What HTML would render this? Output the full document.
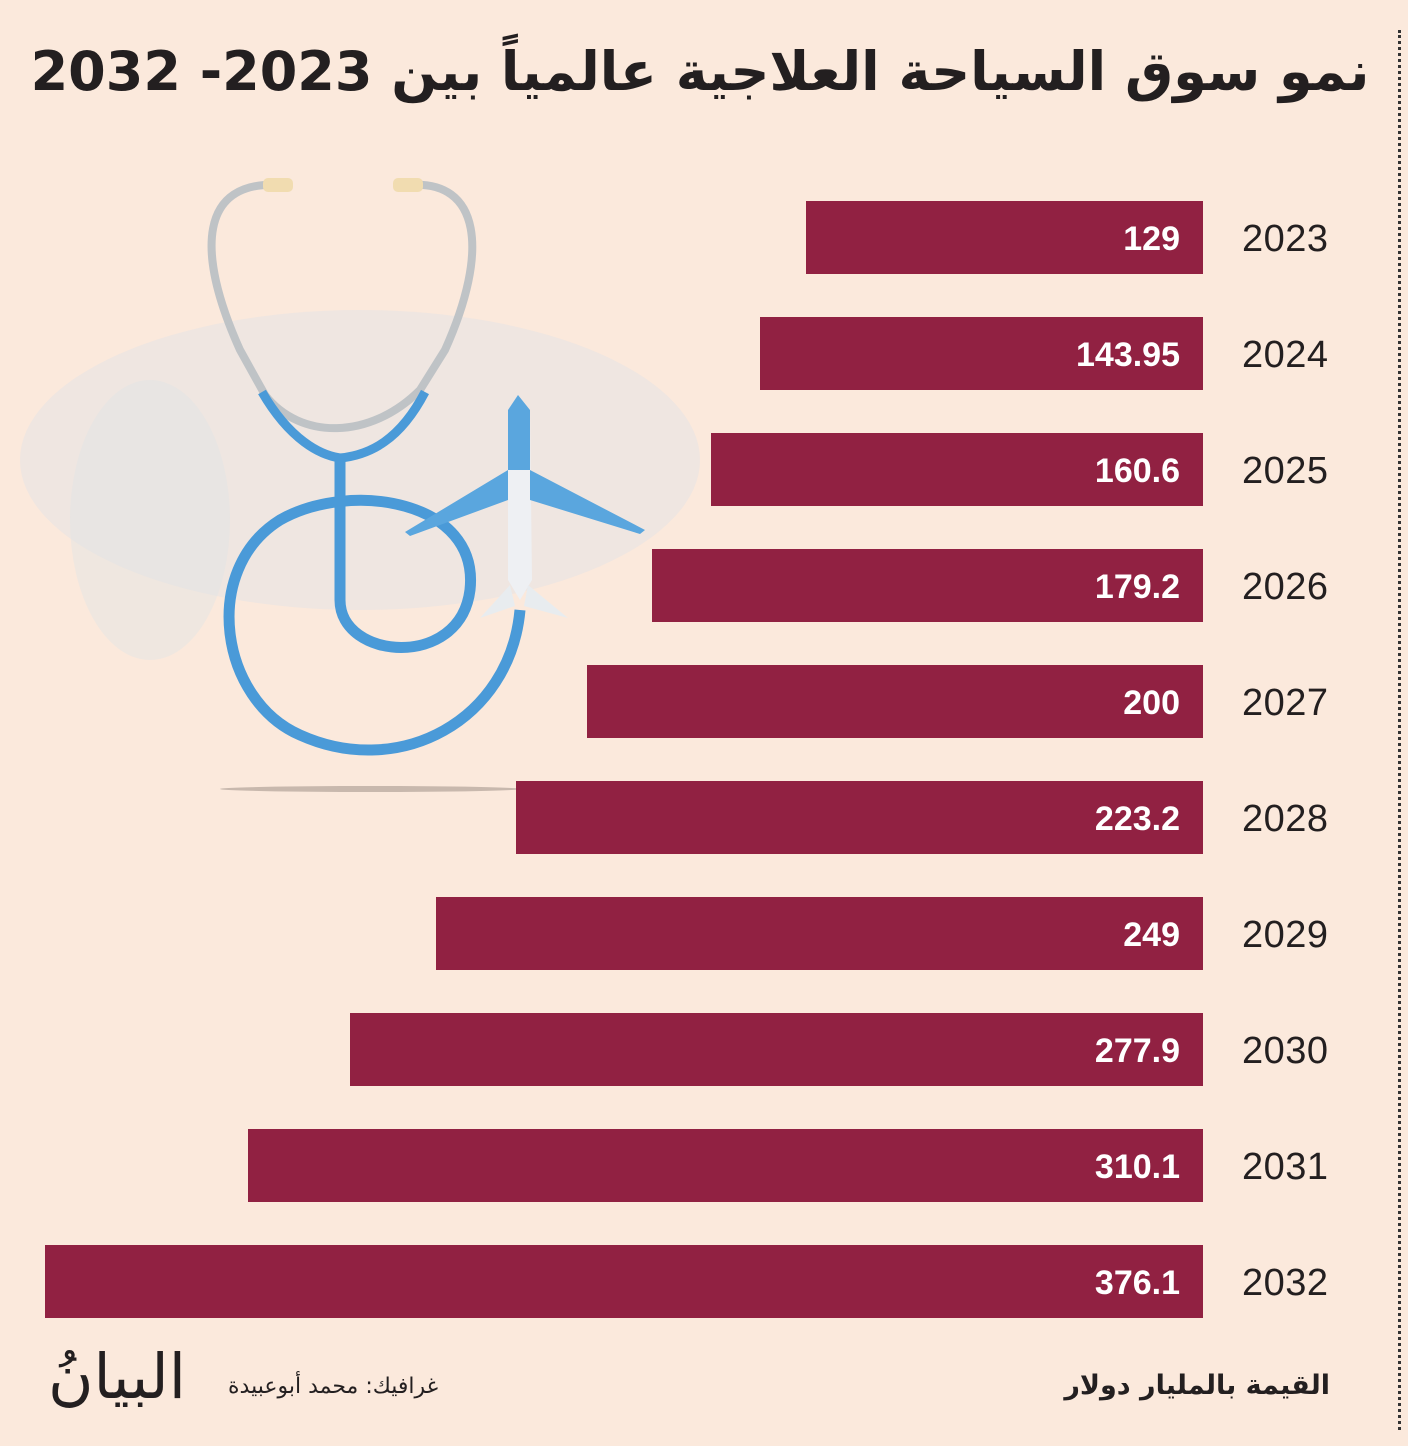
<!DOCTYPE html>
<html><head><meta charset="utf-8"><style>
body{margin:0;width:1408px;height:1446px;background:#fbe9dc;position:relative;overflow:hidden;font-family:"Liberation Sans","DejaVu Sans",sans-serif}
.t{position:absolute;left:20px;width:1360px;top:40px;text-align:center;font-family:"DejaVu Sans",sans-serif;font-weight:bold;font-size:54px;color:#231f20;direction:rtl;white-space:nowrap}
.bar{position:absolute;height:73px;background:#912142}
.v{position:absolute;right:228px;width:300px;text-align:right;color:#fff;font-weight:bold;font-size:34px;line-height:76px}
.y{position:absolute;left:1242px;font-size:38px;color:#231f20;line-height:76px;letter-spacing:0.5px}
.dl{position:absolute;left:1398px;top:30px;height:1400px;border-left:3px dotted #333}
</style></head><body>
<div class="t">نمو سوق السياحة العلاجية عالمياً بين 2023- 2032</div>
<div class="dl"></div>
<svg style="position:absolute;left:0;top:0" width="760" height="820">
<ellipse cx="360" cy="460" rx="340" ry="150" fill="#dfe3e6" opacity="0.45"/>
<ellipse cx="150" cy="520" rx="80" ry="140" fill="#dfe3e6" opacity="0.4"/>
<ellipse cx="370" cy="789" rx="150" ry="3" fill="#c8b8ad"/>
<path d="M280 185 C200 180 195 250 240 350 L265 395 C300 440 370 440 420 390 L445 350 C490 250 480 180 410 185" fill="none" stroke="#bfc3c6" stroke-width="8"/>
<rect x="263" y="178" width="30" height="14" rx="5" fill="#f1dcb0"/>
<rect x="393" y="178" width="30" height="14" rx="5" fill="#f1dcb0"/>
<path d="M262 392 C290 440 320 455 340 458 C370 455 400 440 425 392" fill="none" stroke="#4a9ad8" stroke-width="9"/>
<path d="M340 458 L340 600 C340 660 460 670 470 590 C480 500 350 480 280 520 C200 570 220 700 300 735 C400 780 510 720 520 610" fill="none" stroke="#4a9ad8" stroke-width="11"/>
<path d="M518 395 L530 410 L532 580 L520 600 L508 580 L508 410Z" fill="#eef0f3"/>
<path d="M518 395 L530 410 L530 470 L508 470 L508 410Z" fill="#5aa6de"/>
<path d="M508 470 L405 532 L410 536 L508 500Z M530 470 L645 530 L640 534 L530 500Z" fill="#5aa6de"/>
<path d="M510 585 L480 618 L515 606Z M528 585 L568 618 L524 606Z" fill="#e8ecef"/>
</svg>
<div class="bar" style="left:806px;right:205px;top:201px"></div><div class="v" style="top:201px">129</div><div class="y" style="top:201px">2023</div>
<div class="bar" style="left:760px;right:205px;top:317px"></div><div class="v" style="top:317px">143.95</div><div class="y" style="top:317px">2024</div>
<div class="bar" style="left:711px;right:205px;top:433px"></div><div class="v" style="top:433px">160.6</div><div class="y" style="top:433px">2025</div>
<div class="bar" style="left:652px;right:205px;top:549px"></div><div class="v" style="top:549px">179.2</div><div class="y" style="top:549px">2026</div>
<div class="bar" style="left:587px;right:205px;top:665px"></div><div class="v" style="top:665px">200</div><div class="y" style="top:665px">2027</div>
<div class="bar" style="left:516px;right:205px;top:781px"></div><div class="v" style="top:781px">223.2</div><div class="y" style="top:781px">2028</div>
<div class="bar" style="left:436px;right:205px;top:897px"></div><div class="v" style="top:897px">249</div><div class="y" style="top:897px">2029</div>
<div class="bar" style="left:350px;right:205px;top:1013px"></div><div class="v" style="top:1013px">277.9</div><div class="y" style="top:1013px">2030</div>
<div class="bar" style="left:248px;right:205px;top:1129px"></div><div class="v" style="top:1129px">310.1</div><div class="y" style="top:1129px">2031</div>
<div class="bar" style="left:45px;right:205px;top:1245px"></div><div class="v" style="top:1245px">376.1</div><div class="y" style="top:1245px">2032</div>
<div style="position:absolute;right:78px;top:1370px;font-family:'DejaVu Sans',sans-serif;font-weight:bold;font-size:27px;color:#231f20;direction:rtl">القيمة بالمليار دولار</div>
<div style="position:absolute;left:228px;top:1374px;font-family:'DejaVu Sans',sans-serif;font-size:22px;color:#231f20;direction:rtl">غرافيك: محمد أبوعبيدة</div>
<div style="position:absolute;left:48px;top:1340px;font-family:'DejaVu Serif','DejaVu Sans',serif;font-size:62px;color:#231f20;direction:rtl">البيانُ</div>
</body></html>
